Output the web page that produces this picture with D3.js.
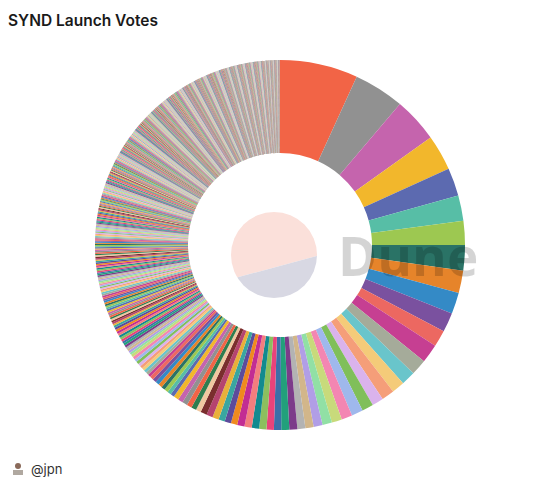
<!DOCTYPE html>
<html><head><meta charset="utf-8">
<script src="https://cdn.jsdelivr.net/npm/d3@7"></script>
<style>body{margin:0;background:#fff;font-family:"Inter","Noto Sans",sans-serif}</style>
</head><body><svg id="c" width="540" height="490"></svg>
<script>
// vote shares (degrees of the ring), largest first
const topVotes = [24.5,15.9,14.1,11.2,8.8,8.0,7.5,8.0,7.0,6.7,6.1,5.2,5.9,5.0,4.4,
  4.0,4.0,3.6,3.6,3.6,3.4,3.2,3.0,2.8,2.6,2.5,2.5,2.5];
// long tail as [share, number of voters with about that share]
const tailRuns = [[2.3,6],[2.0,6],[1.6,6],[1.2,8],[0.9,10],[0.7,15],[0.55,20],[0.45,30],
  [0.35,40],[0.28,50],[0.2,80],[0.15,100],[0.1,150],[0.06,200],[0.03,180]];
const palette = ["#f26446","#919191","#c564ad","#f2b72c","#5c6ab0","#57bea6","#9dc851","#2a7366",
  "#e6842a","#348ac6","#7a519f","#ec6861","#c63f92","#a5ab9a","#69c5cb","#f4cb79","#f59e79",
  "#dab3ec","#80bf5a","#9fb8ec","#f386b2","#c8da7b","#91e0a5","#b19ee6","#d2b68a","#b3b3b3",
  "#7c3b8a","#22a07b","#3c6fa8","#e9437a","#8cbf5e","#128a8f","#f37e7e","#c22d93","#ef8a1f",
  "#5d4b9c","#3aa6a0","#e8b03a","#b5446f","#7a2e2e","#f0c8a0","#2e7d4f"];

const votes = topVotes.slice();
tailRuns.forEach(([v,n]) => { for (let i=0;i<n;i++) votes.push(v); });

const svg = d3.select("#c");
svg.append("text").attr("x",8).attr("y",26).attr("font-size",15.5).attr("font-weight",600)
  .attr("fill","#1a1a1a").text("SYND Launch Votes");

const cx = 280, cy = 245;
const pie = d3.pie().sort(null).value(d => d);
const arc = d3.arc().innerRadius(92).outerRadius(185);
const color = d3.scaleOrdinal().domain(d3.range(votes.length)).range(palette);

const g = svg.append("g").attr("transform",`translate(${cx},${cy})`);
g.selectAll("path").data(pie(votes)).join("path")
  .attr("d", arc).attr("fill", (d,i) => color(i));

// Dune watermark
const logo = svg.append("g").attr("transform","translate(274,255)");
logo.append("clipPath").attr("id","lt").append("polygon").attr("points","-50,-50 50,-50 50,-1 -50,26");
logo.append("clipPath").attr("id","lb").append("polygon").attr("points","-50,26 50,-1 50,50 -50,50");
logo.append("circle").attr("r",43).attr("fill","#fbe0da").attr("clip-path","url(#lt)");
logo.append("circle").attr("r",43).attr("fill","#d8d8e3").attr("clip-path","url(#lb)");
svg.append("text").attr("x",338).attr("y",276).attr("font-size",53).attr("font-weight",700)
  .attr("font-family","Open Sans, sans-serif").attr("fill","#000").attr("fill-opacity",0.17).text("Dune");

// footer
const f = svg.append("g").attr("transform","translate(12,463)");
f.append("circle").attr("cx",6).attr("cy",3).attr("r",3).attr("fill","#8a6a5a");
f.append("rect").attr("x",1).attr("y",7).attr("width",10).attr("height",5).attr("fill","#b0a8a0");
svg.append("text").attr("x",31).attr("y",474).attr("font-size",13).attr("fill","#333").text("@jpn");
</script></body></html>
